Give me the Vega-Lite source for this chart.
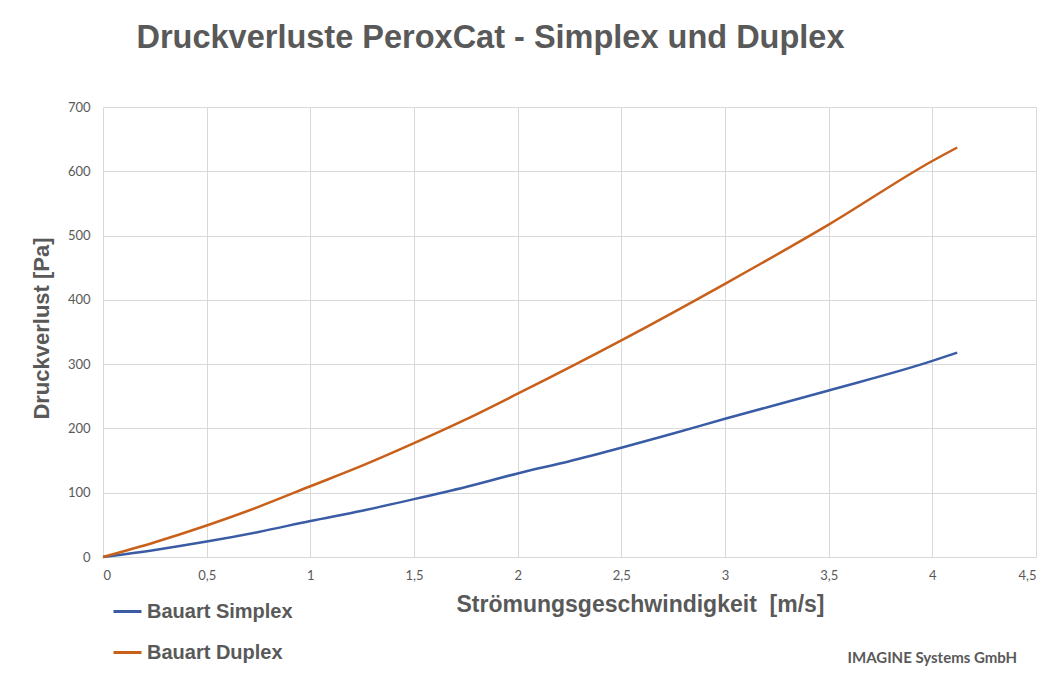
{
  "$schema": "https://vega.github.io/schema/vega-lite/v6.json",
  "width": 933,
  "height": 450,
  "autosize": {"type": "none"},
  "padding": {"left": 103, "top": 107, "right": 25, "bottom": 139},
  "background": "white",
  "config": {"view": {"stroke": null}},
  "title": {
    "text": "Druckverluste PeroxCat - Simplex und Duplex",
    "font": "Liberation Sans",
    "fontSize": 32.5,
    "fontWeight": "bold",
    "color": "#595959",
    "anchor": "middle",
    "dx": -79,
    "offset": 47
  },
  "datasets": {
    "curves": [
      {"v": 0, "p": 0, "s": "Bauart Simplex"},
      {"v": 0.25, "p": 11, "s": "Bauart Simplex"},
      {"v": 0.5, "p": 24, "s": "Bauart Simplex"},
      {"v": 0.75, "p": 39, "s": "Bauart Simplex"},
      {"v": 1.0, "p": 56, "s": "Bauart Simplex"},
      {"v": 1.25, "p": 72, "s": "Bauart Simplex"},
      {"v": 1.5, "p": 90, "s": "Bauart Simplex"},
      {"v": 1.75, "p": 109, "s": "Bauart Simplex"},
      {"v": 2.0, "p": 130, "s": "Bauart Simplex"},
      {"v": 2.25, "p": 149, "s": "Bauart Simplex"},
      {"v": 2.5, "p": 170, "s": "Bauart Simplex"},
      {"v": 2.75, "p": 192, "s": "Bauart Simplex"},
      {"v": 3.0, "p": 215, "s": "Bauart Simplex"},
      {"v": 3.5, "p": 259, "s": "Bauart Simplex"},
      {"v": 4.0, "p": 305, "s": "Bauart Simplex"},
      {"v": 4.12, "p": 318, "s": "Bauart Simplex"},
      {"v": 0, "p": 0, "s": "Bauart Duplex"},
      {"v": 0.25, "p": 23, "s": "Bauart Duplex"},
      {"v": 0.5, "p": 49, "s": "Bauart Duplex"},
      {"v": 0.75, "p": 78, "s": "Bauart Duplex"},
      {"v": 1.0, "p": 110, "s": "Bauart Duplex"},
      {"v": 1.25, "p": 142, "s": "Bauart Duplex"},
      {"v": 1.5, "p": 177, "s": "Bauart Duplex"},
      {"v": 1.75, "p": 214, "s": "Bauart Duplex"},
      {"v": 2.0, "p": 254, "s": "Bauart Duplex"},
      {"v": 2.5, "p": 337, "s": "Bauart Duplex"},
      {"v": 3.0, "p": 425, "s": "Bauart Duplex"},
      {"v": 3.5, "p": 517, "s": "Bauart Duplex"},
      {"v": 4.0, "p": 616, "s": "Bauart Duplex"},
      {"v": 4.12, "p": 637, "s": "Bauart Duplex"}
    ],
    "footer": [{"t": "IMAGINE Systems GmbH"}]
  },
  "layer": [
    {
      "data": {"name": "curves"},
      "mark": {"type": "line", "strokeWidth": 2.5, "interpolate": "monotone"},
      "encoding": {
        "x": {
          "field": "v",
          "type": "quantitative",
          "scale": {"domain": [0, 4.5], "nice": false},
          "axis": {
            "values": [0, 0.5, 1, 1.5, 2, 2.5, 3, 3.5, 4, 4.5],
            "labelExpr": "replace(toString(datum.value), '.', ',')",
            "labelFont": "Lato",
            "labelFontSize": 13,
            "labelColor": "#595959",
            "labelPadding": 12,
            "ticks": false,
            "domainColor": "#D9D9D9",
            "domainWidth": 1,
            "gridColor": "#D9D9D9",
            "title": "Strömungsgeschwindigkeit\u00a0 [m/s]",
            "titleFont": "Liberation Sans",
            "titleFontSize": 23,
            "titleFontWeight": "bold",
            "titleColor": "#595959",
            "titleX": 537,
            "titleY": 47,
            "titleAlign": "center",
            "titleBaseline": "middle"
          }
        },
        "y": {
          "field": "p",
          "type": "quantitative",
          "scale": {"domain": [0, 700], "nice": false},
          "axis": {
            "values": [0, 100, 200, 300, 400, 500, 600, 700],
            "labelFont": "Lato",
            "labelFontSize": 13,
            "labelColor": "#595959",
            "labelPadding": 13,
            "ticks": false,
            "domain": false,
            "gridColor": "#D9D9D9",
            "title": "Druckverlust [Pa]",
            "titleFont": "Liberation Sans",
            "titleFontSize": 22,
            "titleFontWeight": "bold",
            "titleColor": "#595959",
            "titleX": -62,
            "titleY": 221,
            "titleAngle": -90,
            "titleAlign": "center",
            "titleBaseline": "middle"
          }
        },
        "color": {
          "field": "s",
          "type": "nominal",
          "scale": {"domain": ["Bauart Simplex", "Bauart Duplex"], "range": ["#3a5ca5", "#c8601a"]},
          "legend": {
            "orient": "none",
            "legendX": 9,
            "legendY": 489,
            "title": null,
            "symbolType": "stroke",
            "symbolSize": 784,
            "symbolStrokeWidth": 3,
            "labelFont": "Liberation Sans",
            "labelFontSize": 20,
            "labelFontWeight": "bold",
            "labelColor": "#595959",
            "labelOffset": 4,
            "rowPadding": 15,
            "labelLimit": 300
          }
        }
      }
    },
    {
      "data": {"name": "footer"},
      "mark": {"type": "text", "font": "Lato", "fontSize": 15, "fontWeight": "bold", "color": "#595959", "align": "center", "baseline": "middle"},
      "encoding": {
        "text": {"field": "t", "type": "nominal"},
        "x": {"datum": 4.0, "type": "quantitative"},
        "y": {"datum": -157, "type": "quantitative"}
      }
    }
  ]
}
